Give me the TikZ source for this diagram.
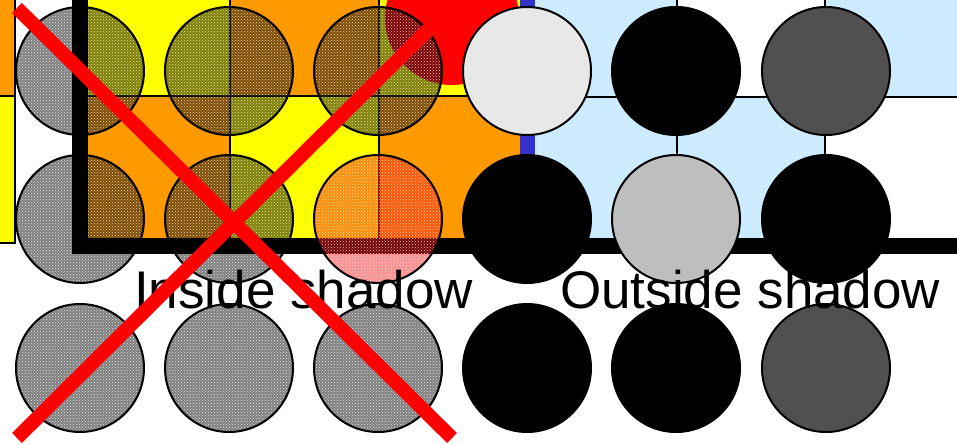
\documentclass[tikz,border=0pt]{standalone}
\usepackage{fontspec}
\usepackage{tikz}
\usetikzlibrary{patterns}
\newfontfamily\labelfont{Liberation Sans}
\definecolor{tileorange}{RGB}{255,153,0}
\definecolor{tileyellow}{RGB}{255,255,0}
\definecolor{tileblue}{RGB}{204,235,255}
\definecolor{barblue}{RGB}{51,51,204}
\definecolor{lightgrey}{RGB}{232,232,232}
\definecolor{midgrey}{RGB}{190,190,190}
\definecolor{darkgrey}{RGB}{80,80,80}
\tikzset{
  disc/.style={circle,draw=black,line width=2pt,minimum size=128pt,inner sep=0pt},
  shade/.style={disc,fill=black,fill opacity=0.5},
  grain/.style={circle,minimum size=125pt,inner sep=0pt,pattern=crosshatch dots,pattern color=white,opacity=0.8},
  gridline/.style={line width=1.5pt},
  caption/.style={anchor=base west,inner sep=0pt,font=\labelfont\fontsize{53}{60}\selectfont}
}
\begin{document}
\begin{tikzpicture}[x=1pt,y=-1pt]
\useasboundingbox (0,0) rectangle (957,444);
% left strip
\fill[tileorange] (0,0) rectangle (15,96);
\fill[tileyellow] (0,96) rectangle (15,243);
\draw[gridline] (0,96) -- (15,96);
\draw[gridline] (0,243) -- (15,243) -- (15,0);

% inside tiles
\fill[tileyellow] (80,0) rectangle (230,96);
\fill[tileorange] (230,0) rectangle (379,96);
\fill[tileyellow] (379,0) rectangle (520,96);
\fill[tileorange] (80,96) rectangle (230,238);
\fill[tileyellow] (230,96) rectangle (379,238);
\fill[tileorange] (379,96) rectangle (520,238);
\fill[red] (452,18) circle[radius=67];
\draw[gridline] (88,96) -- (520,96);
\draw[gridline] (230,0) -- (230,238);
\draw[gridline] (379,0) -- (379,238);

% outside tiles
\fill[barblue] (520,0) rectangle (535,238);
\fill[tileblue] (535,0) rectangle (677,97);
\fill[tileblue] (825,0) rectangle (957,97);
\fill[tileblue] (535,97) rectangle (825,238);
\draw[gridline] (535,97) -- (957,97);
\draw[gridline] (677,0) -- (677,238);
\draw[gridline] (825,0) -- (825,238);

% shadowed discs
\node[shade] (in11) at (80,71) {};
\node[shade] (in12) at (229,71) {};
\node[shade] (in13) at (378,71) {};
\node[shade] (in21) at (80,219) {};
\node[shade] (in22) at (229,219) {};
\node[shade] (in31) at (80,368) {};
\node[shade] (in32) at (229,368) {};
\node[shade] (in33) at (378,368) {};
\node[grain] at (in11) {};
\node[grain] at (in12) {};
\node[grain] at (in13) {};
\node[grain] at (in21) {};
\node[grain] at (in22) {};
\node[grain] at (in31) {};
\node[grain] at (in32) {};
\node[grain] at (in33) {};

% thick frame
\fill (72,0) rectangle (88,254);
\fill (72,238) rectangle (957,254);

\node[disc,fill=red,fill opacity=0.45] (in23) at (378,219) {};
\node[grain] at (in23) {};

% plain discs
\node[disc,fill=lightgrey] (out11) at (527,71) {};
\node[disc,fill=black] (out12) at (676,71) {};
\node[disc,fill=darkgrey] (out13) at (826,71) {};
\node[disc,fill=black] (out21) at (527,219) {};
\node[disc,fill=midgrey] (out22) at (676,219) {};
\node[disc,fill=black] (out23) at (826,219) {};
\node[disc,fill=black] (out31) at (527,368) {};
\node[disc,fill=black] (out32) at (676,368) {};
\node[disc,fill=darkgrey] (out33) at (826,368) {};

\node[caption] (inside) at (134,308) {Inside shadow};
\node[caption] (outside) at (560,308) {Outside shadow};

% cross
\coordinate (xa) at (17,8);
\coordinate (xb) at (452,438);
\coordinate (xc) at (17,438);
\coordinate (xd) at (446,12);
\draw[red,line width=14pt] (xa) -- (xb);
\draw[red,line width=14pt] (xc) -- (xd);
\end{tikzpicture}
\end{document}
